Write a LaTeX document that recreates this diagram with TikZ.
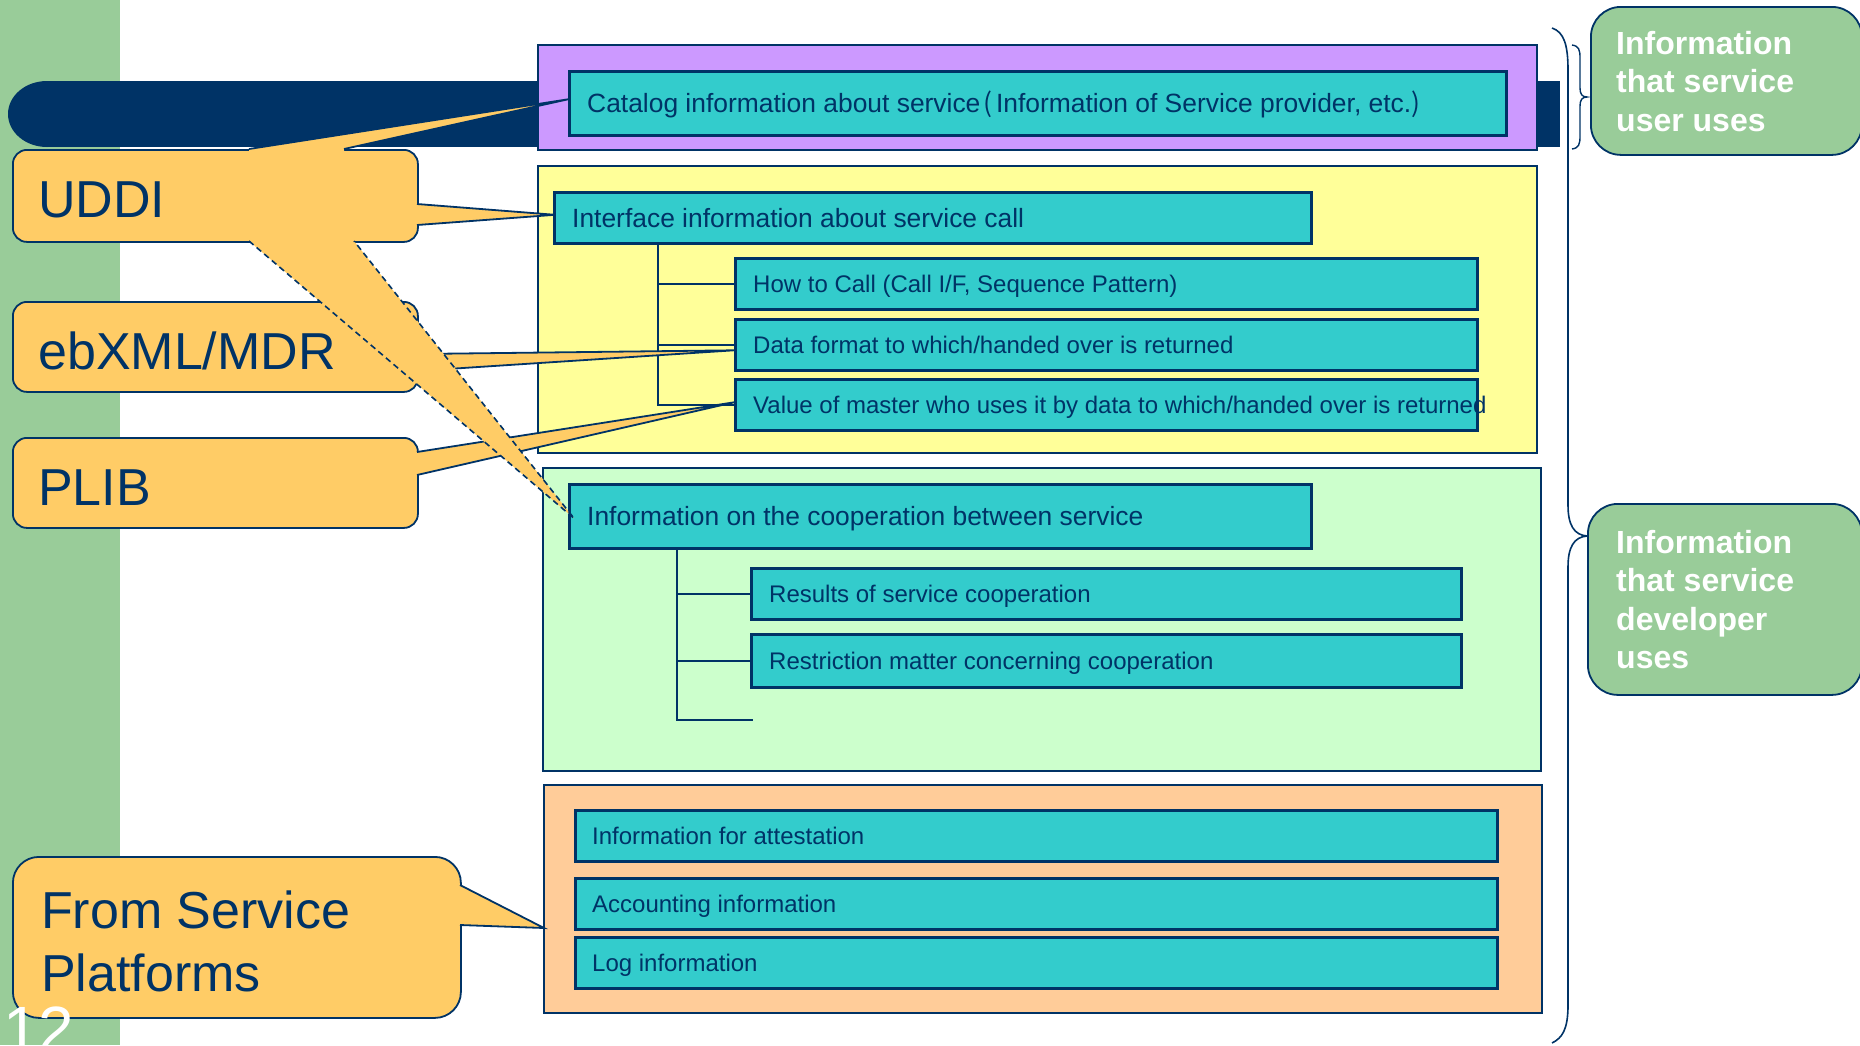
\documentclass[tikz,border=0pt]{standalone}
\usepackage{fontspec}
\setmainfont{Liberation Sans}
\newfontfamily\cjkfont{Noto Sans CJK JP}
\usetikzlibrary{calc}
\definecolor{navy}{HTML}{003366}
\definecolor{tealfill}{HTML}{33CCCC}
\definecolor{purplefill}{HTML}{CC99FF}
\definecolor{yellowfill}{HTML}{FFFF99}
\definecolor{lgreenfill}{HTML}{CCFFCC}
\definecolor{peachfill}{HTML}{FFCC99}
\definecolor{callfill}{HTML}{FFCC66}
\definecolor{bandgreen}{HTML}{99CC99}
\begin{document}
\begin{tikzpicture}[x=1pt,y=-1pt,
  box/.style={draw=navy, line width=2pt, inner sep=0pt, anchor=north west},
  tealbox/.style={box, fill=tealfill, line width=2.6pt},
  callbox/.style={draw=navy, line width=1.8pt, fill=callfill, rounded corners=14pt, inner sep=0pt, anchor=north west},
  glab/.style={draw=navy, line width=1.8pt, fill=bandgreen, rounded corners=30pt, inner sep=0pt, anchor=north west},
  bigtxt/.style={anchor=base west, inner sep=0pt, text=navy, font=\fontsize{26.4}{30}\selectfont},
  smtxt/.style={anchor=base west, inner sep=0pt, text=navy, font=\fontsize{24}{28}\selectfont},
  calltxt/.style={anchor=base west, inner sep=0pt, text=navy, font=\fontsize{52}{63}\selectfont},
  labtxt/.style={anchor=north west, inner sep=0pt, text=white, align=left, font=\bfseries\fontsize{32}{38.5}\selectfont},
  tree/.style={draw=navy, line width=2pt},
  pedge/.style={draw=navy, line width=1.8pt, line join=miter},
  pfill/.style={fill=callfill},
]
\useasboundingbox (0,0) rectangle (1860,1045);
\clip (0,0) rectangle (1860,1045);
% left band
\fill[bandgreen] (0,0) rectangle (120,1045);
% navy bar
\fill[navy] (47,81) rectangle (1560,147);
\fill[navy] (47,114) ellipse[x radius=39, y radius=33];

% containers
\node[box, fill=purplefill, minimum width=999pt, minimum height=105pt] (purple) at (537,44) {};
\node[box, fill=yellowfill, minimum width=999pt, minimum height=287pt] (yellow) at (537,165) {};
\node[box, fill=lgreenfill, minimum width=998pt, minimum height=303pt] (lgreen) at (542,467) {};
\node[box, fill=peachfill, minimum width=998pt, minimum height=228pt] (peach) at (543,784) {};

% teal boxes
\node[tealbox, minimum width=937pt, minimum height=64pt] (catalog) at (568,70) {};
\node[tealbox, minimum width=757pt, minimum height=51pt] (iface) at (553,191) {};
\node[tealbox, minimum width=742pt, minimum height=51pt] (howto) at (734,257) {};
\node[tealbox, minimum width=742pt, minimum height=51pt] (dataf) at (734,318) {};
\node[tealbox, minimum width=742pt, minimum height=51pt] (valm) at (734,378) {};
\node[tealbox, minimum width=742pt, minimum height=64pt] (coop) at (568,483) {};
\node[tealbox, minimum width=710pt, minimum height=51pt] (results) at (750,567) {};
\node[tealbox, minimum width=710pt, minimum height=53pt] (restr) at (750,633) {};
\node[tealbox, minimum width=922pt, minimum height=51pt] (attest) at (574,809) {};
\node[tealbox, minimum width=922pt, minimum height=51pt] (acct) at (574,877) {};
\node[tealbox, minimum width=922pt, minimum height=51pt] (logi) at (574,936) {};

% texts in teal boxes
\node[bigtxt] (catalogt) at ($(catalog.west)+(19,9.4)$) {Catalog information about service\kern0.1em{\cjkfont (}\kern0.15em Information of Service provider, etc.{\cjkfont )}};
\node[bigtxt] (ifacet) at ($(iface.west)+(19,9.4)$) {Interface information about service call};
\node[smtxt] (howtot) at ($(howto.west)+(19,8.6)$) {How to Call (Call I/F, Sequence Pattern)};
\node[smtxt] (dataft) at ($(dataf.west)+(19,8.6)$) {Data format to which/handed over is returned};
\node[smtxt] (valmt) at ($(valm.west)+(19,8.6)$) {Value of master who uses it by data to which/handed over is returned};
\node[bigtxt] (coopt) at ($(coop.west)+(19,9.4)$) {Information on the cooperation between service};
\node[smtxt] (resultst) at ($(results.west)+(19,8.6)$) {Results of service cooperation};
\node[smtxt] (restrt) at ($(restr.west)+(19,8.6)$) {Restriction matter concerning cooperation};
\node[smtxt] (attestt) at ($(attest.west)+(18,8.6)$) {Information for attestation};
\node[smtxt] (acctt) at ($(acct.west)+(18,8.6)$) {Accounting information};
\node[smtxt] (logit) at ($(logi.west)+(18,8.6)$) {Log information};

% tree lines
\coordinate (t1) at ($(iface.south west)+(105,0)$);
\draw[tree] (t1) |- (howto.west);
\draw[tree] (t1) |- (dataf.west);
\draw[tree] (t1) |- (valm.west);
\coordinate (t2) at ($(coop.south west)+(109,0)$);
\coordinate (stub) at (753,720);
\draw[tree] (t2) |- (results.west);
\draw[tree] (t2) |- (restr.west);
\draw[tree] (t2) |- (stub);

% ebXML/MDR callout
\node[callbox, minimum width=405pt, minimum height=90pt] (ebxml) at (12,301) {};
\coordinate (ebT) at ($(dataf.west)+(0,5.5)$);
\fill[pfill] (412,354) -- (417,354) -- (ebT) -- (417,371) -- (412,371) -- cycle;
\draw[pedge] (417,354) -- (ebT) -- (417,371);
\node[calltxt] (ebxmlt) at (38,369) {ebXML/MDR};

% PLIB callout
\node[callbox, minimum width=405pt, minimum height=90pt] (plib) at (12,437) {};
\coordinate (plT) at ($(valm.west)+(0,-2.5)$);
\fill[pfill] (412,452) -- (417,452) -- (plT) -- (417,475) -- (412,475) -- cycle;
\draw[pedge] (417,452) -- (plT) -- (417,475);
\node[calltxt] (plibt) at (38,505) {PLIB};

% From Service Platforms callout
\node[callbox, rounded corners=26pt, minimum width=448pt, minimum height=161pt] (fsp) at (12,856) {};
\coordinate (fsT) at ($(peach.west)+(1,29)$);
\fill[pfill] (455,885) -- (460,885) -- (fsT) -- (460,925) -- (455,925) -- cycle;
\draw[pedge] (460,885) -- (fsT) -- (460,925);
\node[calltxt, align=left, anchor=north west] (fspt) at (41,891) {From Service\\Platforms};

% UDDI callout
\node[callbox, minimum width=405pt, minimum height=92pt] (uddi) at (12,149) {};
\coordinate (uT1) at ($(catalog.west)+(0,-4)$);
\fill[pfill] (249,154) -- (249,149) -- (uT1) -- (344,149) -- (344,154) -- cycle;
\draw[pedge] (249,149) -- (uT1) -- (344,149);
\coordinate (uT2) at ($(iface.west)+(2,-3)$);
\fill[pfill] (412,204) -- (417,204) -- (uT2) -- (417,225) -- (412,225) -- cycle;
\draw[pedge] (417,204) -- (uT2) -- (417,225);
\coordinate (uT3) at ($(coop.west)+(6,2)$);
\fill[pfill] (249,236) -- (249,241) -- (uT3) -- (354,241) -- (354,236) -- cycle;
\draw[pedge, line width=1.6pt, dash pattern=on 6pt off 4pt] (249,241) -- (uT3) -- (354,241);
\node[calltxt] (uddit) at (38,217) {UDDI};

% braces
\draw[navy, line width=1.6pt] (1552,28) .. controls (1564,32) and (1568,45) .. (1568,70) -- (1568,505) .. controls (1568,525) and (1574,535) .. (1587,536) .. controls (1574,537) and (1568,547) .. (1568,567) -- (1568,1005) .. controls (1568,1030) and (1562,1038) .. (1552,1043);
\draw[navy, line width=1.4pt] (1572,45) .. controls (1579,46) and (1580,50) .. (1580,58) -- (1580,88) .. controls (1580,94) and (1582,97) .. (1587,97) .. controls (1582,97) and (1580,100) .. (1580,106) -- (1580,136) .. controls (1580,144) and (1579,148) .. (1572,149);

% green labels
\node[glab, minimum width=271pt, minimum height=148pt] (userlab) at (1590,6) {};
\node[labtxt] (userlabt) at (1616,31) {Information\\that service\\user uses};
\node[glab, minimum width=274pt, minimum height=191pt] (devlab) at (1587,503) {};
\node[labtxt] (devlabt) at (1616,530) {Information\\that service\\developer\\uses};

% page number
\node[anchor=base west, inner sep=0pt, text=white, font=\fontsize{64}{64}\selectfont] (pagenum) at (3,1051) {12};
\end{tikzpicture}
\end{document}
